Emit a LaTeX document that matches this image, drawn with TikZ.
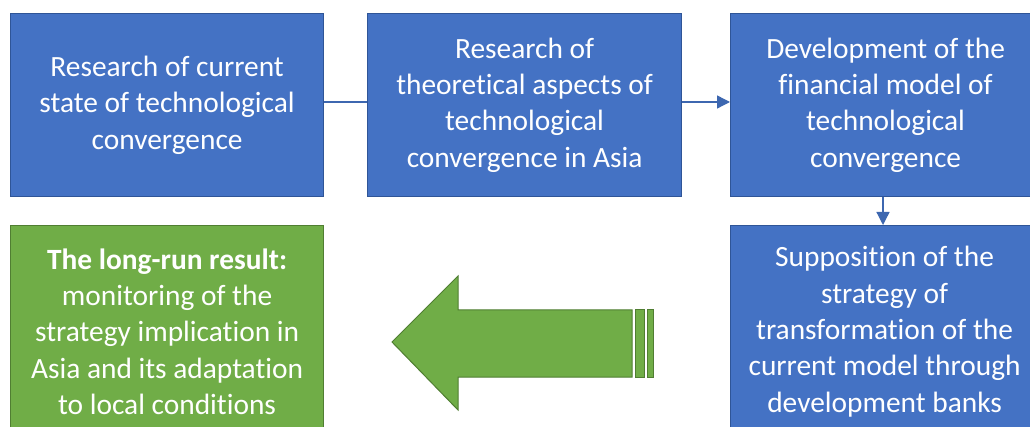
\documentclass[tikz,border=0pt]{standalone}
\usepackage{fontspec}
\setmainfont{Carlito}[Ligatures=NoCommon]
\usetikzlibrary{arrows.meta}
\definecolor{bfill}{HTML}{4472C4}
\definecolor{bline}{HTML}{2F5597}
\definecolor{gfill}{HTML}{70AD47}
\definecolor{gline}{HTML}{507E32}
\begin{document}
\begin{tikzpicture}[x=1pt,y=-1pt,
  box/.style={draw=bline, line width=1.2pt, fill=bfill, text=white, anchor=north west,
    align=center, inner sep=0pt, font=\fontsize{29.4}{36.3}\selectfont},
  gbox/.style={box, draw=gline, fill=gfill},
  conn/.style={draw=bfill!90!black, line width=1.3pt},
  tip/.style={-{Triangle[length=13pt,width=13pt]}}]
\useasboundingbox (0,0) rectangle (1030,427);
\fill[white] (0,0) rectangle (1030,427);
\node[box, minimum width=313pt, minimum height=183pt] (b1) at (10,13)
  {Research of current\\state of technological\\convergence};
\node[box, minimum width=314pt, minimum height=183pt] (b2) at (367,13)
  {Research of\\theoretical aspects of\\technological\\convergence in Asia};
\node[box, minimum width=310pt, minimum height=183pt] (b3) at (730,13)
  {Development of the\\financial model of\\technological\\convergence};
\node[box, minimum width=308pt, minimum height=212pt] (b4) at (730,225)
  {Supposition of the\\strategy of\\transformation of the\\current model through\\development banks};
\node[gbox, minimum width=313pt, minimum height=212pt] (b5) at (10,225)
  {\textbf{The long-run result:}\\monitoring of the\\strategy implication in\\Asia and its adaptation\\to local conditions};
\draw[conn] (b1.east |- 0,102) -- (b2.west |- 0,102);
\draw[conn, tip] (b2.east |- 0,102) -- (b3.west |- 0,102);
\draw[conn, tip] (b3.south -| 883,0) -- (b4.north -| 883,0);
% big green arrow
\draw[draw=gline, fill=gfill, line width=1pt, line join=miter]
  (392,342) -- (458,276) -- (458,310) -- (632,310) -- (632,377) -- (458,377) -- (458,410) -- cycle;
\draw[draw=gline, fill=gfill, line width=1pt] (635,310) rectangle (644,377);
\draw[draw=gline, fill=gfill, line width=1pt] (647,310) rectangle (653,377);
\end{tikzpicture}
\end{document}
